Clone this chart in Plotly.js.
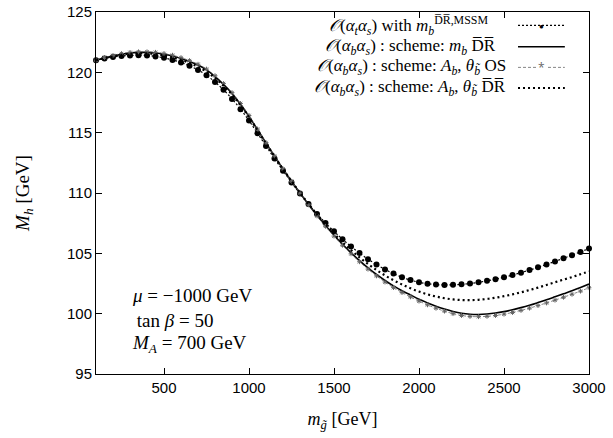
<!DOCTYPE html>
<html>
<head>
<meta charset="utf-8">
<script src="https://cdn.plot.ly/plotly-3.0.1.min.js"></script>
<style>html,body{margin:0;padding:0;background:#fff;}</style>
</head>
<body>
<div id="chart" style="width:613px;height:438px;"></div>
<script>
// gluino mass [GeV]
var mGluino = [100,150,200,250,300,350,400,450,500,550,600,650,700,750,800,850,900,950,1000,
  1050,1100,1150,1200,1250,1300,1350,1400,1450,1500,1550,1600,1650,1700,1750,1800,1850,1900,1950,2000,
  2050,2100,2150,2200,2250,2300,2350,2400,2450,2500,2550,2600,2650,2700,2750,2800,2850,2900,2950,3000];

// O(at as) with mb DR,MSSM
var mhAtAs = [121.0,121.15,121.27,121.35,121.4,121.42,121.4,121.32,121.2,121.03,120.82,120.55,120.2,119.75,119.2,118.55,117.8,116.95,116.0,
  114.95,113.9,112.85,111.85,110.88,109.95,109.08,108.27,107.52,106.82,106.17,105.57,105.02,104.52,104.07,103.67,103.32,103.02,102.78,102.6,
  102.48,102.41,102.38,102.39,102.43,102.5,102.6,102.72,102.86,103.02,103.2,103.4,103.61,103.84,104.08,104.33,104.59,104.85,105.12,105.4];

// O(ab as) scheme mb DR
var mhMbDR = [121.0,121.2,121.35,121.5,121.6,121.65,121.65,121.6,121.5,121.35,121.15,120.9,120.6,120.2,119.65,119.0,118.25,117.35,116.35,
  115.25,114.15,113.05,112.0,110.98,110.0,109.05,108.15,107.3,106.5,105.75,105.05,104.4,103.8,103.25,102.75,102.3,101.9,101.55,101.2,
  100.9,100.62,100.38,100.18,100.03,99.95,99.93,99.97,100.05,100.17,100.32,100.5,100.7,100.92,101.15,101.4,101.65,101.9,102.17,102.45];

// O(ab as) scheme Ab, theta_b OS
var mhAbOS = [121.0,121.23,121.4,121.55,121.65,121.7,121.7,121.66,121.56,121.42,121.22,120.97,120.67,120.27,119.72,119.07,118.32,117.42,116.42,
  115.3,114.18,113.07,112.0,110.97,109.98,109.02,108.1,107.24,106.43,105.67,104.96,104.3,103.69,103.13,102.62,102.16,101.75,101.39,101.04,
  100.73,100.45,100.21,100.0,99.85,99.77,99.75,99.78,99.85,99.96,100.1,100.27,100.46,100.67,100.89,101.12,101.36,101.61,101.87,102.15];

// O(ab as) scheme Ab, theta_b DR
var mhAbDR = [121.0,121.18,121.32,121.45,121.54,121.58,121.57,121.51,121.4,121.24,121.03,120.77,120.46,120.05,119.53,118.9,118.16,117.27,116.28,
  115.19,114.1,113.02,111.98,110.98,110.02,109.1,108.22,107.4,106.63,105.92,105.27,104.67,104.12,103.62,103.17,102.77,102.42,102.1,101.83,
  101.6,101.42,101.28,101.18,101.13,101.12,101.15,101.22,101.32,101.45,101.6,101.77,101.96,102.16,102.38,102.6,102.82,103.03,103.27,103.5];

var xTicks = [500,1000,1500,2000,2500,3000];
var yTicks = [95,100,105,110,115,120,125];

var legendLabels = [
  '<i>𝒪</i>(<i>α<sub>t</sub>α<sub>s</sub></i>) with <i>m<sub>b</sub></i><sup>D̅R̅,MSSM</sup>',
  '<i>𝒪</i>(<i>α<sub>b</sub>α<sub>s</sub></i>) : scheme: <i>m<sub>b</sub></i> D̅R̅',
  '<i>𝒪</i>(<i>α<sub>b</sub>α<sub>s</sub></i>) : scheme: <i>A<sub>b</sub></i>, <i>θ<sub>b̃</sub></i> OS',
  '<i>𝒪</i>(<i>α<sub>b</sub>α<sub>s</sub></i>) : scheme: <i>A<sub>b</sub></i>, <i>θ<sub>b̃</sub></i> D̅R̅'
];
var paramLines = ['<i>μ</i> = −1000 GeV', ' tan <i>β</i> = 50', '<i>M<sub>A</sub></i> = 700 GeV'];

var serif = 'Liberation Serif, DejaVu Serif, serif';

var traces = [
  {x: mGluino, y: mhAtAs, mode: 'lines+markers', line: {color: '#000', width: 1.2, dash: '2px,2px', shape: 'spline'},
   marker: {symbol: 'circle', size: 6, color: '#000'}, cliponaxis: false},
  {x: mGluino, y: mhMbDR, mode: 'lines', line: {color: '#000', width: 1.6, shape: 'spline'}},
  {x: mGluino, y: mhAbOS, mode: 'lines+markers', line: {color: '#666', width: 0.8, dash: '3px,2px', shape: 'spline'},
   marker: {symbol: 'asterisk-open', size: 4, line: {color: '#666', width: 1}}, cliponaxis: false},
  {x: mGluino, y: mhAbDR, mode: 'lines', line: {color: '#000', width: 2.2, dash: '2px,3px', shape: 'spline'}}
];

// legend rows (paper coordinates)
var rowY = [0.963, 0.904, 0.847, 0.790];
var rowX = [0.80, 0.815, 0.836, 0.836];
var annotations = [];
var shapes = [];
for (var i = 0; i < 4; i++) {
  annotations.push({xref: 'paper', yref: 'paper', x: rowX[i], y: rowY[i], xanchor: 'right', yanchor: 'middle',
    text: legendLabels[i], showarrow: false, font: {family: serif, size: 17, color: '#000'}});
}
var sx0 = 0.856, sx1 = 0.951;
shapes.push({type: 'line', xref: 'paper', yref: 'paper', x0: sx0, x1: sx1, y0: rowY[0], y1: rowY[0], line: {color: '#000', width: 1.2, dash: '2px,2px'}});
shapes.push({type: 'line', xref: 'paper', yref: 'paper', x0: sx0, x1: sx1, y0: rowY[1], y1: rowY[1], line: {color: '#000', width: 1.6}});
shapes.push({type: 'line', xref: 'paper', yref: 'paper', x0: sx0, x1: sx1, y0: rowY[2], y1: rowY[2], line: {color: '#666', width: 0.8, dash: '3px,2px'}});
shapes.push({type: 'line', xref: 'paper', yref: 'paper', x0: sx0, x1: sx1, y0: rowY[3], y1: rowY[3], line: {color: '#000', width: 2.2, dash: '2px,3px'}});
annotations.push({xref: 'paper', yref: 'paper', x: (sx0 + sx1) / 2, y: rowY[0], text: '●', showarrow: false,
  font: {size: 8, color: '#000'}, xanchor: 'center', yanchor: 'middle'});
annotations.push({xref: 'paper', yref: 'paper', x: (sx0 + sx1) / 2, y: rowY[2], text: '*', showarrow: false,
  font: {size: 12, color: '#666'}, xanchor: 'center', yanchor: 'middle', bgcolor: '#fff'});

var paramY = [0.218, 0.148, 0.082];
for (var j = 0; j < 3; j++) {
  annotations.push({xref: 'paper', yref: 'paper', x: 0.068, y: paramY[j], xanchor: 'left', yanchor: 'middle',
    text: paramLines[j], showarrow: false, font: {family: serif, size: 19, color: '#000'}});
}

var layout = {
  width: 613, height: 438,
  margin: {l: 96, r: 24, t: 12, b: 64},
  paper_bgcolor: '#fff', plot_bgcolor: '#fff',
  showlegend: false,
  xaxis: {range: [100, 3000], tickvals: xTicks, ticktext: xTicks.map(String), ticks: 'inside', ticklen: 6,
    mirror: 'ticks', showline: true, linecolor: '#000', linewidth: 1, tickcolor: '#000', showgrid: false, zeroline: false,
    tickfont: {family: 'Liberation Sans, Arial, sans-serif', size: 15, color: '#000'},
    title: {text: '<i>m<sub>g̃</sub></i> [GeV]', font: {family: serif, size: 18, color: '#000'}, standoff: 17}},
  yaxis: {range: [95, 125], tickvals: yTicks, ticktext: yTicks.map(String), ticks: 'inside', ticklen: 6,
    mirror: 'ticks', showline: true, linecolor: '#000', linewidth: 1, tickcolor: '#000', showgrid: false, zeroline: false,
    tickfont: {family: 'Liberation Sans, Arial, sans-serif', size: 15, color: '#000'},
    title: {text: '<i>M<sub>h</sub></i> [GeV]', font: {family: serif, size: 19, color: '#000'}, standoff: 32}},
  annotations: annotations,
  shapes: shapes
};

Plotly.newPlot('chart', traces, layout, {staticPlot: true, displayModeBar: false});
</script>
</body>
</html>
